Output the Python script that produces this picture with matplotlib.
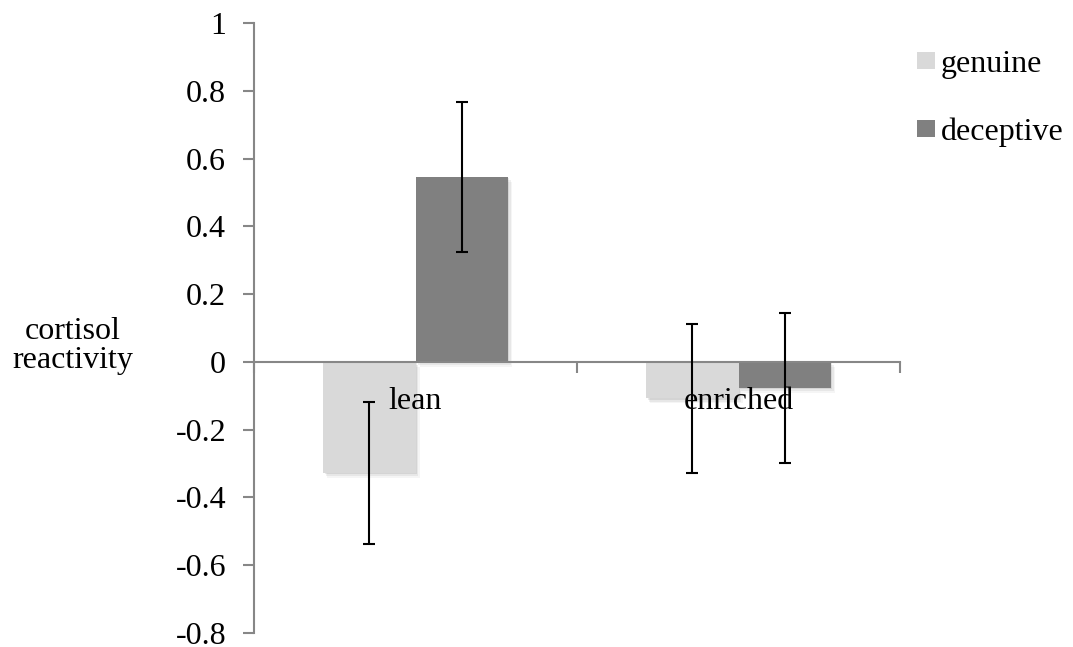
import matplotlib
matplotlib.use("Agg")
import matplotlib.pyplot as plt
import matplotlib.patheffects as pe
from matplotlib.patches import Patch
import numpy as np

categories = ["lean", "enriched"]
series_names = ["genuine", "deceptive"]
genuine = [-0.327, -0.108]
deceptive = [0.546, -0.077]
genuine_err = [0.210, 0.220]
deceptive_err = [0.221, 0.221]
yticks = [-0.8, -0.6, -0.4, -0.2, 0, 0.2, 0.4, 0.6, 0.8, 1]
ytick_labels = ["-0.8", "-0.6", "-0.4", "-0.2", "0", "0.2", "0.4", "0.6", "0.8", "1"]

colors = ["#D9D9D9", "#808080"]
axis_color = "#878787"

plt.rcParams['font.family'] = ['Liberation Serif', 'DejaVu Serif']
fs = 23

fig = plt.figure(figsize=(10.73, 6.47), dpi=100)
ax = fig.add_axes([254/1073, 1-633/647, (900-254)/1073, (633-23)/647])

n = len(categories)
centers = np.arange(n) + 0.5
w = 1/3.5
shadow = [pe.SimplePatchShadow(offset=(1, -1), alpha=0.10, shadow_rgbFace="#404040"),
          pe.SimplePatchShadow(offset=(2, -2.5), alpha=0.08, shadow_rgbFace="#404040"),
          pe.SimplePatchShadow(offset=(3, -3.5), alpha=0.05, shadow_rgbFace="#404040"),
          pe.Normal()]

vals = [genuine, deceptive]
errs = [genuine_err, deceptive_err]
for i, (v, e) in enumerate(zip(vals, errs)):
    xs = centers + (i - 0.5) * w
    bars = ax.bar(xs, v, width=w, color=colors[i], zorder=2)
    for b in bars:
        b.set_path_effects(shadow)
    ax.errorbar(xs, v, yerr=e, fmt='none', ecolor='black', elinewidth=1.5,
                capsize=4.6, capthick=1.5, zorder=6)

ax.set_xlim(0, n)
ax.set_ylim(-0.8, 1.0)
ax.set_yticks(yticks)
ax.set_yticklabels(ytick_labels, fontsize=fs)

for s in ["top", "right"]:
    ax.spines[s].set_visible(False)
ax.spines["left"].set_color(axis_color)
ax.spines["left"].set_linewidth(1.5)
ax.spines["bottom"].set_position(("data", 0))
ax.spines["bottom"].set_color(axis_color)
ax.spines["bottom"].set_linewidth(1.5)
ax.spines["bottom"].set_zorder(3)

ax.set_xticks(np.arange(n + 1))
ax.set_xticklabels([""] * (n + 1))
ax.tick_params(axis="x", which="major", direction="out", length=8, width=1.5, color=axis_color)
ax.tick_params(axis="y", direction="out", length=8, width=1.5, color=axis_color, pad=12)

for c, lab in zip(centers, categories):
    ax.annotate(lab, xy=(c, 0), xycoords="data", xytext=(0, -47), textcoords="offset pixels",
                ha="center", va="baseline", fontsize=fs, zorder=5, annotation_clip=False)

fig.text(73/1073, 1-346/647, "cortisol\nreactivity", ha="center", va="center",
         fontsize=fs, linespacing=1.0)

handles = [Patch(facecolor=colors[i], edgecolor="none") for i in range(2)]
leg = fig.legend(handles=handles, labels=series_names, loc="upper left",
                 bbox_to_anchor=(917/1073, 1-50/647), frameon=False, fontsize=fs,
                 handlelength=0.55, handleheight=0.42, handletextpad=0.2,
                 labelspacing=1.2, borderpad=0, borderaxespad=0)

fig.savefig("out.png", dpi=100)
